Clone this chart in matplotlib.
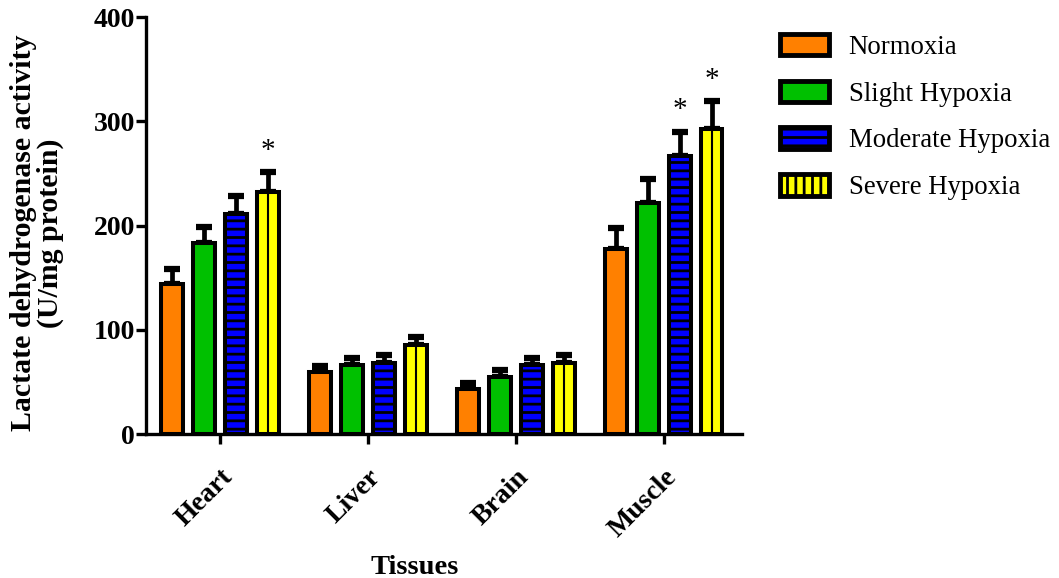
import numpy as np
import matplotlib
matplotlib.use("Agg")
import matplotlib.pyplot as plt
from matplotlib.patches import Patch

# Lactate dehydrogenase activity per tissue and oxygen condition
tissues = ["Heart", "Liver", "Brain", "Muscle"]
groups = ["Normoxia", "Slight Hypoxia", "Moderate Hypoxia", "Severe Hypoxia"]
means = {
    "Normoxia":         [144, 59, 43, 177],
    "Slight Hypoxia":   [183, 66, 55, 222],
    "Moderate Hypoxia": [211, 68, 66, 267],
    "Severe Hypoxia":   [232, 85, 68, 293],
}
errors = {
    "Normoxia":         [14, 6, 6, 21],
    "Slight Hypoxia":   [16, 7, 6, 23],
    "Moderate Hypoxia": [17, 8, 7, 23],
    "Severe Hypoxia":   [19, 8, 8, 26],
}
# significance marks: (tissue index, group name)
significant = [(0, "Severe Hypoxia"), (3, "Moderate Hypoxia"), (3, "Severe Hypoxia")]

colors = {
    "Normoxia": "#FF8000",
    "Slight Hypoxia": "#00C000",
    "Moderate Hypoxia": "#0000FF",
    "Severe Hypoxia": "#FFFF00",
}
hatches = {"Normoxia": "", "Slight Hypoxia": "", "Moderate Hypoxia": "--", "Severe Hypoxia": ""}

plt.rcParams["font.family"] = ["Liberation Serif", "DejaVu Serif"]
plt.rcParams["hatch.linewidth"] = 2.0
plt.rcParams["hatch.color"] = "black"

fig = plt.figure(figsize=(10.59, 5.78), dpi=100)
ax = fig.add_axes([146 / 1059, 144 / 578, (742 - 146) / 1059, (434 - 17) / 578])

x = np.arange(len(tissues))
step = 0.216
width = 0.148
edge_lw = 2.9

for i, g in enumerate(groups):
    pos = x + (i - 1.5) * step
    vals = np.array(means[g])
    errs = np.array(errors[g])
    ax.errorbar(pos, vals, yerr=[np.zeros_like(errs), errs], fmt="none",
                ecolor="black", elinewidth=3.4, capsize=5.5, capthick=4.5, zorder=1)
    ax.bar(pos, vals, width=width, color=colors[g], edgecolor="black",
           linewidth=edge_lw, hatch=hatches[g], zorder=2)
    if g == "Severe Hypoxia":
        ax.vlines(pos, 0, vals, colors="black", linewidth=1.5, zorder=3)
    for ti, sg in significant:
        if sg == g:
            ax.text(pos[ti], vals[ti] + errs[ti] + 8, "*", ha="center", va="bottom",
                    fontsize=21, color="black")

ax.set_xlim(-0.5, 3.53)
ax.set_ylim(0, 400)
ax.set_yticks([0, 100, 200, 300, 400])
ax.set_xticks(x)
ax.set_xticklabels(tissues, rotation=45, ha="right", rotation_mode="anchor",
                   fontsize=20, fontweight="bold")
for lbl in ax.get_yticklabels():
    lbl.set_fontsize(20)
    lbl.set_fontweight("bold")

for side in ["top", "right"]:
    ax.spines[side].set_visible(False)
for side in ["left", "bottom"]:
    ax.spines[side].set_linewidth(2.4)
ax.tick_params(axis="both", direction="out", length=7, width=2.4)
ax.tick_params(axis="y", pad=1)
ax.tick_params(axis="x", pad=15)

ax.set_ylabel("Lactate dehydrogenase activity\n(U/mg protein)", fontsize=21.5,
              fontweight="bold", linespacing=1.0)
ax.yaxis.set_label_coords(-0.137, 0.482)
ax.set_xlabel("Tissues", fontsize=20.5, fontweight="bold")
ax.xaxis.set_label_coords(0.451, -0.29)

handles = [Patch(facecolor=colors[g], edgecolor="black", linewidth=3.5,
                 hatch=("--" if g == "Moderate Hypoxia" else "||" if g == "Severe Hypoxia" else ""),
                 joinstyle="round", label=g) for g in groups]
fig.legend(handles=handles, loc="upper left", bbox_to_anchor=(769 / 1059, 1 - 23 / 578),
           frameon=False, fontsize=19.3, handlelength=1.85, handleheight=0.85,
           labelspacing=0.78, handletextpad=0.72, borderaxespad=0)

fig.savefig("out.png", dpi=100)
